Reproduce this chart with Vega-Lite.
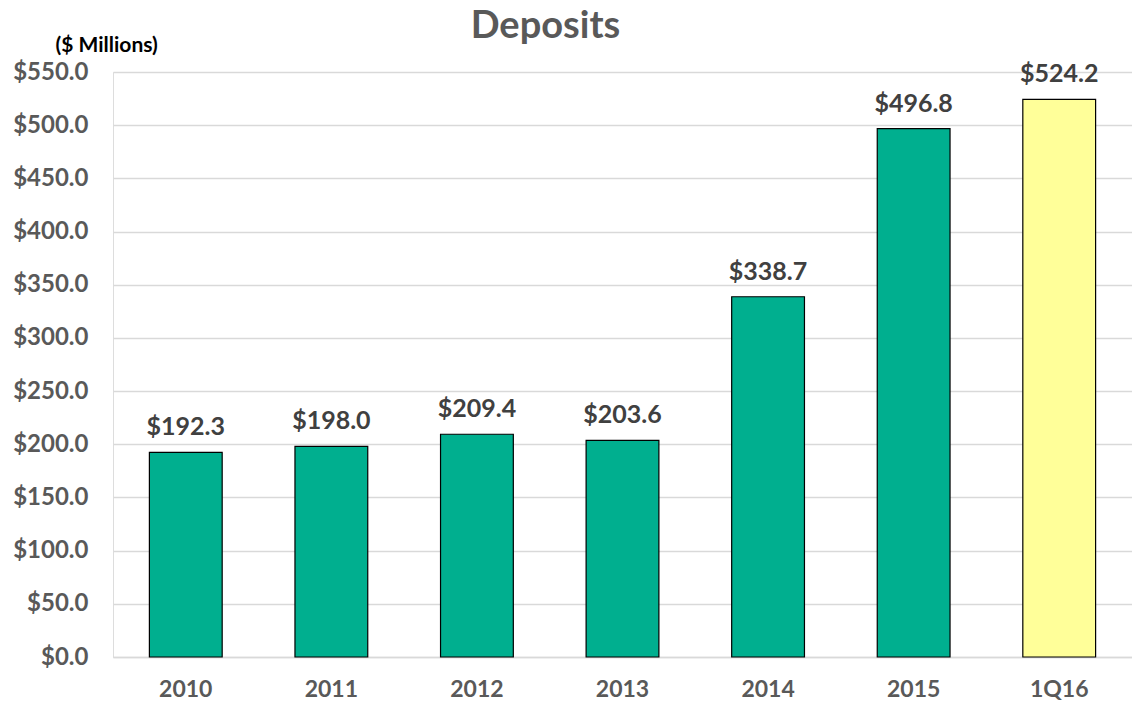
{
  "$schema": "https://vega.github.io/schema/vega-lite/v6.json",
  "autosize": "none",
  "width": 1019,
  "height": 585,
  "padding": {"left": 113, "top": 72, "right": 0, "bottom": 52},
  "background": "white",
  "title": {
    "text": "Deposits",
    "font": "Lato",
    "fontSize": 38,
    "fontWeight": "bold",
    "color": "#595959",
    "anchor": "middle",
    "frame": "group",
    "dx": -77,
    "offset": -12
  },
  "data": {
    "values": [
      {"period": "2010", "deposits": 192.3, "kind": "year"},
      {"period": "2011", "deposits": 198.0, "kind": "year"},
      {"period": "2012", "deposits": 209.4, "kind": "year"},
      {"period": "2013", "deposits": 203.6, "kind": "year"},
      {"period": "2014", "deposits": 338.7, "kind": "year"},
      {"period": "2015", "deposits": 496.8, "kind": "year"},
      {"period": "1Q16", "deposits": 524.2, "kind": "quarter"}
    ]
  },
  "encoding": {
    "x": {
      "field": "period",
      "type": "nominal",
      "sort": null,
      "scale": {"paddingInner": 0.5, "paddingOuter": 0.25},
      "axis": {
        "title": null,
        "labelAngle": 0,
        "labelFont": "Lato",
        "labelFontSize": 23,
        "labelFontWeight": "bold",
        "labelColor": "#595959",
        "labelPadding": 21,
        "ticks": false,
        "domainColor": "#d9d9d9",
        "domainWidth": 1.5
      }
    },
    "y": {
      "field": "deposits",
      "type": "quantitative",
      "scale": {"domain": [0, 550], "nice": false},
      "axis": {
        "values": [0, 50, 100, 150, 200, 250, 300, 350, 400, 450, 500, 550],
        "format": "$.1f",
        "title": "($ Millions)",
        "titleAngle": 0,
        "titleAlign": "left",
        "titleBaseline": "middle",
        "titleX": -58,
        "titleY": -27,
        "titleFont": "Lato",
        "titleFontSize": 21,
        "titleFontWeight": "bold",
        "titleColor": "#000000",
        "labelFont": "Lato",
        "labelFontSize": 24,
        "labelFontWeight": "bold",
        "labelColor": "#595959",
        "labelPadding": 25,
        "ticks": false,
        "domain": false,
        "gridColor": "#d9d9d9",
        "gridWidth": 1.5
      }
    }
  },
  "layer": [
    {
      "mark": {"type": "bar", "stroke": "#000000", "strokeWidth": 1.2},
      "encoding": {
        "color": {
          "field": "kind",
          "type": "nominal",
          "scale": {"domain": ["year", "quarter"], "range": ["#00AF8F", "#FFFF99"]},
          "legend": null
        }
      }
    },
    {
      "mark": {
        "type": "text",
        "baseline": "alphabetic",
        "dy": -17,
        "font": "Lato",
        "fontSize": 25,
        "fontWeight": "bold",
        "color": "#404040"
      },
      "encoding": {
        "text": {"field": "deposits", "type": "quantitative", "format": "$.1f"}
      }
    }
  ]
}
